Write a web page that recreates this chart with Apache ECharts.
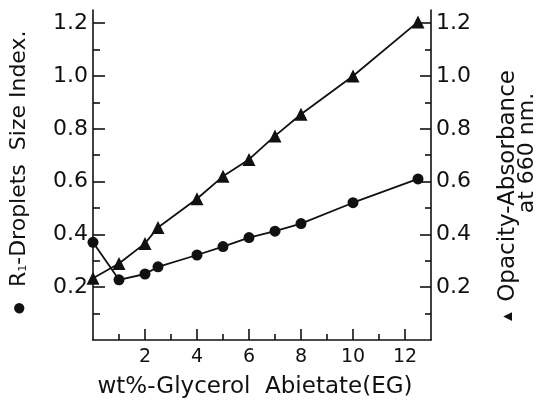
<!DOCTYPE html>
<html>
<head>
<meta charset="utf-8">
<script src="https://cdn.jsdelivr.net/npm/echarts@6/dist/echarts.min.js"></script>
<style>
  html, body { margin: 0; padding: 0; background: #fff; }
  #chart { width: 550px; height: 404px; }
</style>
</head>
<body>
<div id="chart"></div>
<script>
// Glycerol abietate content (wt%) and the two measured responses
const glycerol = [0, 1, 2, 2.5, 4, 5, 6, 7, 8, 10, 12.5];
const dropletSize = [0.37, 0.228, 0.25, 0.277, 0.322, 0.354, 0.388, 0.412, 0.441, 0.52, 0.61];
const opacity = [0.234, 0.29, 0.366, 0.426, 0.535, 0.62, 0.684, 0.773, 0.855, 1.0, 1.205];

// Tick positions
const xMajorTicks = [2, 4, 6, 8, 10, 12];
const xMinorTicks = [1, 3, 5, 7, 9, 11];
const yMajorTicks = [0.2, 0.4, 0.6, 0.8, 1.0, 1.2];
const yMinorTicks = [0.1, 0.3, 0.5, 0.7, 0.9, 1.1];

// Axis titles
const xTitle = 'wt%-Glycerol  Abietate(EG)';
const leftTitle = '{b|●}  R{s|1}-Droplets  Size Index.';
const rightTitle1 = '{t|▲} Opacity-Absorbance';
const rightTitle2 = 'at 660 nm.';

const FONT = 'DejaVu Sans';
const INK = '#111';

const pairs = (xs, ys) => xs.map((x, i) => [x, ys[i]]);

function xAxisDef(ticks, len, withLine, withLabels) {
  return {
    type: 'value', min: 0, max: 13, position: 'bottom',
    splitLine: { show: false },
    axisLine: { show: withLine, onZero: false, lineStyle: { color: INK, width: 1.6 } },
    axisTick: { show: true, inside: true, length: len, customValues: ticks,
                lineStyle: { color: INK, width: 1.6 } },
    axisLabel: withLabels
      ? { show: true, margin: 8, customValues: ticks,
          fontFamily: FONT, fontSize: 19, color: INK }
      : { show: false },
    name: withLabels ? xTitle : '',
    nameLocation: 'middle',
    nameGap: 36,
    nameTextStyle: { fontFamily: FONT, fontSize: 23, color: INK, padding: [0, 14, 0, 0] }
  };
}

function yAxisDef(side, ticks, len, withLine, withLabels) {
  return {
    type: 'value', min: 0, max: 1.25, position: side,
    splitLine: { show: false },
    axisLine: { show: withLine, onZero: false, lineStyle: { color: INK, width: 1.6 } },
    axisTick: { show: true, inside: true, length: len, customValues: ticks,
                lineStyle: { color: INK, width: 1.6 } },
    axisLabel: withLabels
      ? { show: true, margin: 5, customValues: ticks, formatter: v => v.toFixed(1),
          fontFamily: FONT, fontSize: 22, color: INK }
      : { show: false }
  };
}

const titleStyle = { fontFamily: FONT, fontSize: 22, fill: INK, align: 'center', verticalAlign: 'middle' };

const chart = echarts.init(document.getElementById('chart'), null, { renderer: 'canvas' });

chart.setOption({
  backgroundColor: '#fff',
  animation: false,
  grid: { left: 93, right: 119, top: 10, bottom: 62 },
  xAxis: [
    xAxisDef(xMajorTicks, 11, true, true),
    xAxisDef(xMinorTicks, 6, false, false)
  ],
  yAxis: [
    yAxisDef('left', yMajorTicks, 12, true, true),
    yAxisDef('left', yMinorTicks, 7, false, false),
    yAxisDef('right', yMajorTicks, 11, true, true),
    yAxisDef('right', yMinorTicks, 6, false, false)
  ],
  graphic: [
    {
      type: 'text', x: 19, y: 173, rotation: Math.PI / 2,
      style: Object.assign({}, titleStyle, {
        text: leftTitle,
        rich: {
          b: { fontSize: 24, fill: INK },
          s: { fontFamily: FONT, fontSize: 11, fill: INK, padding: [9, 0, 0, 0] }
        }
      })
    },
    {
      type: 'text', x: 508, y: 197, rotation: Math.PI / 2,
      style: Object.assign({}, titleStyle, {
        text: rightTitle1,
        fontSize: 23,
        rich: { t: { fontSize: 15, fill: INK } }
      })
    },
    {
      type: 'text', x: 527, y: 153, rotation: Math.PI / 2,
      style: Object.assign({}, titleStyle, { text: rightTitle2 })
    }
  ],
  series: [
    {
      name: 'Droplets size index',
      type: 'line',
      xAxisIndex: 0, yAxisIndex: 0,
      data: pairs(glycerol, dropletSize),
      symbol: 'circle', symbolSize: 11,
      clip: false,
      lineStyle: { color: INK, width: 1.8 },
      itemStyle: { color: INK }
    },
    {
      name: 'Opacity absorbance',
      type: 'line',
      xAxisIndex: 0, yAxisIndex: 2,
      data: pairs(glycerol, opacity),
      symbol: 'triangle', symbolSize: 13,
      clip: false,
      lineStyle: { color: INK, width: 1.8 },
      itemStyle: { color: INK }
    }
  ]
});
</script>
</body>
</html>
